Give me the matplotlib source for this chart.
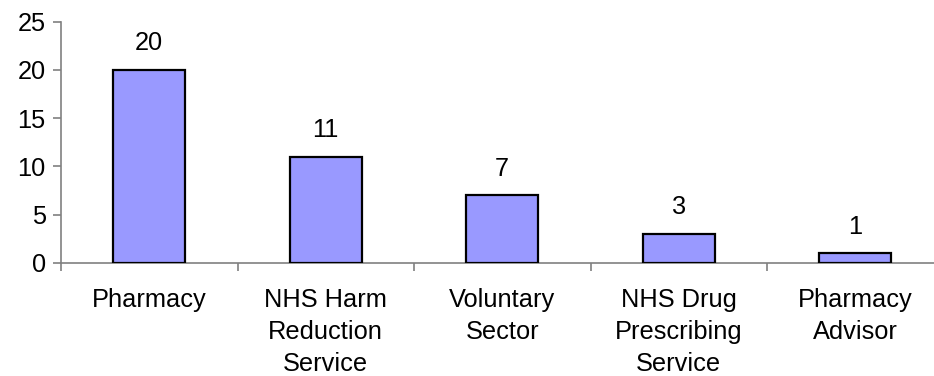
import matplotlib
matplotlib.use("Agg")
import matplotlib.pyplot as plt
import numpy as np

categories = ["Pharmacy", "NHS Harm\nReduction\nService", "Voluntary\nSector",
              "NHS Drug\nPrescribing\nService", "Pharmacy\nAdvisor"]
values = [20, 11, 7, 3, 1]
yticks = [0, 5, 10, 15, 20, 25]

plt.rcParams['font.family'] = ['Liberation Sans', 'DejaVu Sans']
fs = 18.3

fig = plt.figure(figsize=(9.34, 3.76), dpi=100)
ax = fig.add_axes([61/934, 1 - 263/376, (943.5 - 61)/934, (263 - 21.5)/376])

x = np.arange(len(categories))
bars = ax.bar(x, values, width=0.41, color="#9999FF", edgecolor="black", linewidth=1.6, zorder=3)
for xi, v in zip(x, values):
    ax.annotate(str(v), (xi, v), xytext=(0, 10.5), textcoords="offset points",
                ha="center", va="bottom", fontsize=fs)

ax.set_xlim(-0.5, len(categories) - 0.5)
ax.set_ylim(0, 25)
ax.set_yticks(yticks)
ax.set_yticklabels([str(t) for t in yticks], fontsize=fs)

ax.set_xticks(np.arange(len(categories) + 1) - 0.5)
ax.set_xticklabels([])
ax.set_xticks(x, minor=True)
ax.set_xticklabels(categories, minor=True, fontsize=fs, linespacing=1.42)
ax.tick_params(axis='x', which='minor', length=0, pad=18)
ax.tick_params(axis='x', which='major', length=6, color="#808080", width=1.2, direction='out')
ax.tick_params(axis='y', length=6, color="#808080", width=1.2, pad=5)

for s in ["top", "right"]:
    ax.spines[s].set_visible(False)
for s in ["left", "bottom"]:
    ax.spines[s].set_color("#808080")
    ax.spines[s].set_linewidth(1.2)

fig.savefig("out.png", dpi=100)
